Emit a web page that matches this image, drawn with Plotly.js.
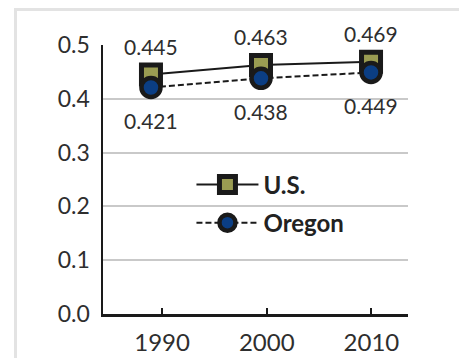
<!DOCTYPE html>
<html>
<head>
<meta charset="utf-8">
<script src="https://cdn.plot.ly/plotly-3.0.1.min.js"></script>
<style>
html,body{margin:0;padding:0;background:#fff;width:459px;height:358px;overflow:hidden;}
#frame{position:absolute;left:14px;top:8px;width:445px;height:350px;border-left:3px solid #e3e3e3;border-top:3px solid #e3e3e3;box-sizing:border-box;}
#chart{position:absolute;left:0;top:0;width:459px;height:358px;}
</style>
</head>
<body>
<div id="frame"></div>
<div id="chart"></div>
<script>
const years = [1990, 2000, 2010];
const usValues = [0.445, 0.463, 0.469];
const oregonValues = [0.421, 0.438, 0.449];
const yTickVals = [0, 0.1, 0.2, 0.3, 0.4, 0.5];
const yTickText = ["0.0", "0.1", "0.2", "0.3", "0.4", "0.5"];
const xTickText = ["1990", "2000", "2010"];

const FONT = "Lato, 'Open Sans', sans-serif";
const TXT = "#2e2e2e";

const traces = [
  {
    x: years, y: usValues, name: "U.S.", type: "scatter", mode: "lines+markers",
    line: {color: "#1a1a1a", width: 2},
    marker: {symbol: "square", size: 19, color: "#9a9c52", line: {color: "#1a1a1a", width: 5}},
    legend: "legend", cliponaxis: false
  },
  {
    x: years, y: oregonValues, name: "Oregon", type: "scatter", mode: "lines+markers",
    line: {color: "#1a1a1a", width: 2, dash: "6px,3px"},
    marker: {symbol: "circle", size: 19, color: "#0b3e84", line: {color: "#1a1a1a", width: 4.5}},
    legend: "legend2", cliponaxis: false
  },
  {
    x: years, y: years.map(() => null), xaxis: "x2", yaxis: "y", type: "scatter", mode: "markers",
    showlegend: false, hoverinfo: "skip"
  }
];

const labelFont = {family: FONT, size: 21, color: TXT};
const annotations = [
  ...years.map((yr, i) => ({x: yr, y: usValues[i], xref: "x", yref: "y", text: usValues[i].toFixed(3),
    showarrow: false, yshift: 28, font: labelFont})),
  ...years.map((yr, i) => ({x: yr, y: oregonValues[i], xref: "x", yref: "y", text: oregonValues[i].toFixed(3),
    showarrow: false, yshift: -33, font: labelFont}))
];

const legendFont = {family: FONT, size: 24, color: "#222", weight: "bold"};

const layout = {
  width: 459, height: 358,
  margin: {l: 103, r: 51, t: 45, b: 44},
  paper_bgcolor: "rgba(0,0,0,0)", plot_bgcolor: "rgba(0,0,0,0)",
  font: {family: FONT, color: TXT},
  showlegend: true,
  annotations: annotations,
  xaxis: {
    range: [1985.64, 2013.36], showticklabels: false, ticks: "", showgrid: false,
    zeroline: false, showline: false, fixedrange: true
  },
  xaxis2: {
    overlaying: "x", side: "bottom", range: [1984.35, 2013.5],
    tickvals: years, ticktext: xTickText, ticks: "inside", ticklen: 6, tickwidth: 2, tickcolor: "#1a1a1a",
    showgrid: false, zeroline: false, showline: true, linecolor: "#1a1a1a", linewidth: 2.5,
    tickfont: {family: FONT, size: 24, color: TXT}, ticklabelstandoff: 6, fixedrange: true
  },
  yaxis: {
    range: [0, 0.5], tickvals: yTickVals, ticktext: yTickText, ticks: "",
    showgrid: true, gridcolor: "#c9c9c9", gridwidth: 2,
    zeroline: false, showline: true, linecolor: "#1a1a1a", linewidth: 2.5,
    tickfont: {family: FONT, size: 23, color: TXT}, ticklabelstandoff: 6, fixedrange: true
  },
  legend: {
    x: 0.29, y: 0.48, xanchor: "left", yanchor: "middle", bgcolor: "rgba(0,0,0,0)",
    font: legendFont, itemwidth: 62, itemsizing: "trace"
  },
  legend2: {
    x: 0.29, y: 0.338, xanchor: "left", yanchor: "middle", bgcolor: "rgba(0,0,0,0)",
    font: legendFont, itemwidth: 62, itemsizing: "trace"
  }
};

Plotly.newPlot("chart", traces, layout, {displayModeBar: false, staticPlot: true});
</script>
</body>
</html>
